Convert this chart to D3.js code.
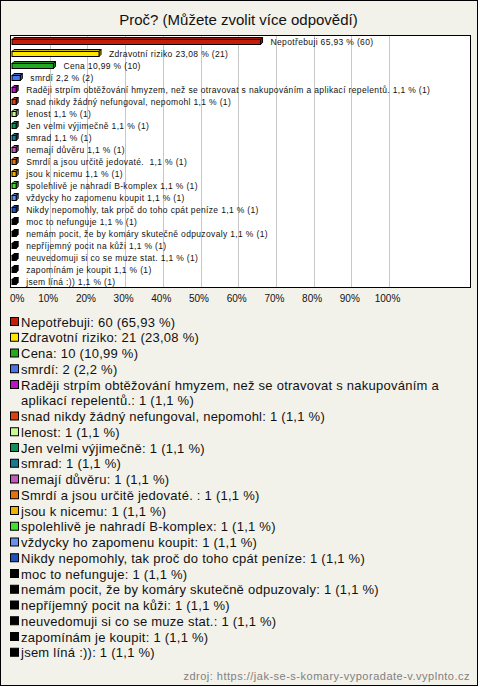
<!DOCTYPE html>
<html><head><meta charset="utf-8">
<script src="https://cdn.jsdelivr.net/npm/d3@7/dist/d3.min.js"></script>
<style>html,body{margin:0;padding:0;background:#fff;}svg{display:block;font-family:Arial,"Liberation Sans",sans-serif;}.bl{white-space:pre;}</style>
</head><body>
<svg id="c" width="480" height="687"></svg>
<script>
const title = "Proč? (Můžete zvolit více odpovědí)";
const categories = ["Nepotřebuji","Zdravotní riziko","Cena","smrdí","Raději strpím obtěžování hmyzem, než se otravovat s nakupováním a aplikací repelentů.","snad nikdy žádný nefungoval, nepomohl","lenost","Jen velmi výjimečně","smrad","nemají důvěru","Smrdí a jsou určitě jedovaté. ","jsou k nicemu","spolehlivě je nahradí B-komplex","vždycky ho zapomenu koupit","Nikdy nepomohly, tak proč do toho cpát peníze","moc to nefunguje","nemám pocit, že by komáry skutečně odpuzovaly","nepříjemný pocit na kůži","neuvedomuji si co se muze stat.","zapomínám je koupit","jsem líná :))"];
const counts = [60,21,10,2,1,1,1,1,1,1,1,1,1,1,1,1,1,1,1,1,1];
const percents = [65.93,23.08,10.99,2.2,1.1,1.1,1.1,1.1,1.1,1.1,1.1,1.1,1.1,1.1,1.1,1.1,1.1,1.1,1.1,1.1,1.1];
const colors = ["#c41e0a","#ffe600","#22a822","#4a74e8","#c010c8","#e0400e","#c8f890","#109058","#1a7890","#c05ab8","#e8700a","#f0b000","#40e030","#6890e8","#2050c0","#000","#000","#000","#000","#000","#000"];
const ticks = [0,10,20,30,40,50,60,70,80,90,100];
const source = "zdroj: https://jak-se-s-komary-vyporadate-v.vyplnto.cz";

const fmt = v => String(v).replace(".", ",");
const svg = d3.select("#c");

// outer frame
svg.append("rect").attr("x",0.5).attr("y",0.5).attr("width",477).attr("height",685)
  .attr("fill","#f3f2ea").attr("stroke","#000");

svg.append("text").attr("x",238.5).attr("y",25).attr("text-anchor","middle")
  .attr("font-size",15).attr("fill","#111").text(title);

// plot area
const plot = {x0:10.5, x1:470.5, y0:35.5, y1:287.5};
svg.append("rect").attr("x",plot.x0).attr("y",plot.y0).attr("width",plot.x1-plot.x0).attr("height",plot.y1-plot.y0)
  .attr("fill","#fff").attr("stroke","none");

const x = d3.scaleLinear().domain([0,100]).range([12,389]);
const y = d3.scaleBand().domain(d3.range(categories.length)).range([plot.y0, plot.y1]);

// grid
svg.append("g").selectAll("line").data(ticks.slice(1)).join("line")
  .attr("x1",d=>Math.round(x(d))+0.5).attr("x2",d=>Math.round(x(d))+0.5)
  .attr("y1",plot.y0).attr("y2",plot.y1).attr("stroke","#c8c8c8");

svg.append("rect").attr("x",plot.x0).attr("y",plot.y0).attr("width",plot.x1-plot.x0).attr("height",plot.y1-plot.y0)
  .attr("fill","none").attr("stroke","#000");

// bars (3D style)
const d = 2, bh = 5;
const bars = svg.append("g").selectAll("g").data(categories).join("g");
bars.each(function(c,i){
  const g = d3.select(this);
  const cy = y(i) + y.bandwidth()/2;
  const x0 = x(0), x1 = Math.max(x(percents[i]), x0+3);
  const top = cy - bh/2 + 0.5;
  const col = d3.color(colors[i]);
  const dark = colors[i]==="#000" ? "#000" : col.darker(0.6).toString();
  g.append("path").attr("d",`M${x0},${top}L${x0+d},${top-d}L${x1+d},${top-d}L${x1},${top}Z`)
    .attr("fill",dark).attr("stroke","#000").attr("stroke-width",1);
  g.append("path").attr("d",`M${x1},${top}L${x1+d},${top-d}L${x1+d},${top+bh-d}L${x1},${top+bh}Z`)
    .attr("fill",dark).attr("stroke","#000").attr("stroke-width",1);
  g.append("rect").attr("x",x0).attr("y",top).attr("width",x1-x0).attr("height",bh)
    .attr("fill",colors[i]).attr("stroke","#000").attr("stroke-width",1);
  g.append("text").attr("class","bl").attr("x",x(percents[i])+10).attr("y",cy+3)
    .attr("font-size",8.5).attr("letter-spacing",0.35).attr("fill","#111")
    .text(`${c} ${fmt(percents[i])} % (${counts[i]})`);
});

// axis labels
svg.append("g").selectAll("text").data(ticks).join("text")
  .attr("x",d=> d===0 ? 10 : x(d)-1.5)
  .attr("text-anchor",d=> d===0 ? "start" : "middle")
  .attr("y",302).attr("font-size",10).attr("fill","#111")
  .text(d=>d+"%");

// legend
const lx = 21, maxW = 430, rowH = 15.75;
let ly = 322;
const leg = svg.append("g");
const mk = yy => leg.append("text").attr("x",lx).attr("y",yy+4.5).attr("font-size",13)
  .attr("letter-spacing",0.25).attr("fill","#111");
categories.forEach((c,i)=>{
  const full = `${c}: ${counts[i]} (${fmt(percents[i])} %)`;
  leg.append("rect").attr("x",10.5).attr("y",ly-4.5).attr("width",8).attr("height",8)
    .attr("fill",colors[i]).attr("stroke","#000");
  const words = full.split(" ");
  let line = [];
  let t = mk(ly);
  words.forEach(w=>{
    line.push(w);
    t.text(line.join(" "));
    if (t.node().getComputedTextLength() > maxW && line.length>1) {
      line.pop();
      t.text(line.join(" "));
      line = [w];
      ly += rowH;
      t = mk(ly).text(w);
    }
  });
  ly += rowH;
});

svg.append("text").attr("x",470).attr("y",680).attr("text-anchor","end")
  .attr("font-size",11).attr("letter-spacing",0.5).attr("fill","#808080").text(source);
</script>
</body></html>
